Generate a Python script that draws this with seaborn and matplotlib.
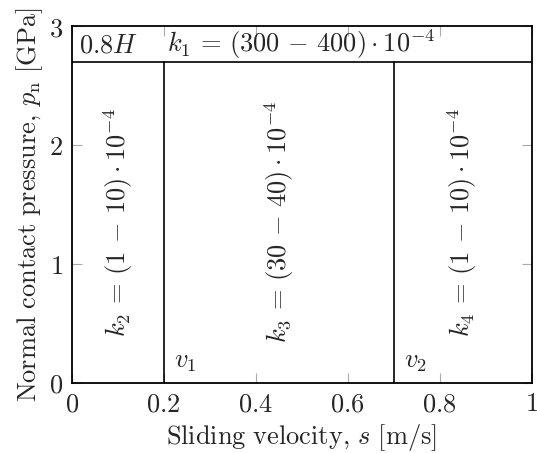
import numpy as np
import pandas as pd
import matplotlib
matplotlib.use("Agg")
import matplotlib.pyplot as plt
import seaborn as sns

# ---- data ----
x_limits = [0.0, 1.0]
y_limits = [0.0, 3.0]
boundaries = [0.2, 0.7]          # velocity boundaries v1, v2
boundary_names = [r"$v_1$", r"$v_2$"]
plastic_limit = 2.7              # 0.8H
limit_label = r"$0.8H$"
k1_label = r"$k_1 \,=\, (300 \,-\, 400)\cdot 10^{-4}$"
region_labels = [r"$k_2 \,=\, (1 \,-\, 10)\cdot 10^{-4}$",
                 r"$k_3 \,=\, (30 \,-\, 40)\cdot 10^{-4}$",
                 r"$k_4 \,=\, (1 \,-\, 10)\cdot 10^{-4}$"]
x_ticks = [0, 0.2, 0.4, 0.6, 0.8, 1]
x_ticklabels = ["0", "0.2", "0.4", "0.6", "0.8", "1"]
y_ticks = [0, 1, 2, 3]
y_ticklabels = ["0", "1", "2", "3"]

sns.set_theme(style="white")
plt.rcParams["mathtext.fontset"] = "cm"
plt.rcParams["font.family"] = ["DejaVu Serif"]

fig = plt.figure(figsize=(5.37, 4.53), dpi=100)
ax = fig.add_axes([0.1335, 0.155, 0.8565, 0.7875])

# segments: horizontal limit line, vertical boundaries
rows = []
rows += [("h", x_limits[0], plastic_limit), ("h", x_limits[1], plastic_limit)]
for i, b in enumerate(boundaries):
    rows += [(f"v{i}", b, y_limits[0]), (f"v{i}", b, plastic_limit)]
seg = pd.DataFrame(rows, columns=["seg", "x", "y"])
sns.lineplot(data=seg, x="x", y="y", units="seg", estimator=None, sort=False,
             color="black", lw=1.2, ax=ax, legend=False)

fs = 19

ax.set_xlim(*x_limits)
ax.set_ylim(*y_limits)
ax.set_xticks(x_ticks)
ax.set_xticklabels([f"${t}$" for t in x_ticklabels])
ax.set_yticks(y_ticks)
ax.set_yticklabels([f"${t}$" for t in y_ticklabels])
ax.tick_params(direction="in", length=7.5, width=0.8, color="#aaaaaa",
               top=True, right=True, bottom=True, left=True,
               labelsize=fs, pad=6)
for s in ax.spines.values():
    s.set_color("black")
    s.set_linewidth(1.3)

ax.set_xlabel(r"$\mathrm{Sliding\ velocity,}\,s\ [\mathrm{m/s}]$", fontsize=fs, labelpad=4)
ax.set_ylabel(r"$\mathrm{Normal\ contact\ pressure,}\,p_\mathrm{n}\ [\mathrm{GPa}]$", fontsize=fs, labelpad=3)

# top band labels
ytop = (plastic_limit + y_limits[1]) / 2
ax.text(x_limits[0] + 0.015, ytop - 0.01, limit_label, fontsize=fs, ha="left", va="center")
ax.text((x_limits[0] + x_limits[1]) / 2, ytop + 0.0, k1_label, fontsize=fs, ha="center", va="center")

# region labels
edges = [x_limits[0]] + boundaries + [x_limits[1]]
for i, lab in enumerate(region_labels):
    xc = (edges[i] + edges[i + 1]) / 2
    ax.text(xc, plastic_limit / 2, lab, fontsize=fs, rotation=90, ha="center", va="center")

# boundary labels
for b, name in zip(boundaries, boundary_names):
    ax.text(b + 0.022, 0.07, name, fontsize=fs, ha="left", va="bottom")

fig.savefig("out.png", dpi=100)
